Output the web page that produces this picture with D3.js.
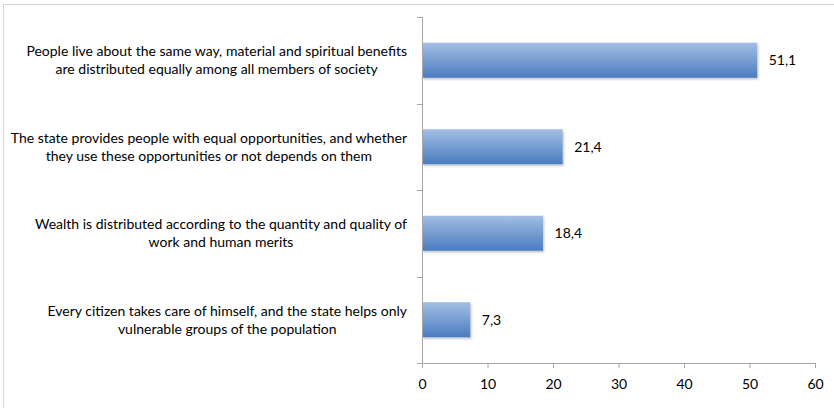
<!DOCTYPE html>
<html>
<head>
<meta charset="utf-8">
<script src="https://cdn.jsdelivr.net/npm/d3@7/dist/d3.min.js"></script>
<style>
  html, body { margin: 0; padding: 0; background: #fff; }
  svg { display: block; }
  text { font-family: Lato, "Open Sans", sans-serif; fill: #000; }
</style>
</head>
<body>
<svg id="chart" width="834" height="408"></svg>
<script>
// Survey answers (one label per category, split into its two printed lines)
const categories = [
  ["People live about the same way, material and spiritual benefits",
   "are distributed equally among all members of society"],
  ["The state provides people with equal opportunities, and whether",
   "they use these opportunities or not depends on them"],
  ["Wealth is distributed according to the quantity and quality of",
   "work and human merits"],
  ["Every citizen takes care of himself, and the state helps only",
   "vulnerable groups of the population"]
];
const values = [51.1, 21.4, 18.4, 7.3];
const xTicks = [0, 10, 20, 30, 40, 50, 60];

const svg = d3.select("#chart");
const W = 834, H = 408;
const FS = 14;

// Outer frame
svg.append("rect")
  .attr("x", 3.5).attr("y", 4.5)
  .attr("width", W + 10).attr("height", H + 10)
  .attr("fill", "none").attr("stroke", "#d4d4d4").attr("stroke-width", 1);

const plot = { left: 422, right: 815, top: 17, bottom: 363 };

const x = d3.scaleLinear().domain([0, 60]).range([plot.left, plot.right]);
const y = d3.scaleBand()
  .domain(d3.range(categories.length))
  .range([plot.top, plot.bottom])
  .paddingInner(0.595).paddingOuter(0.2975);

// Bar fill gradient and soft shadow
const defs = svg.append("defs");
const grad = defs.append("linearGradient")
  .attr("id", "barGrad").attr("x1", 0).attr("y1", 0).attr("x2", 0).attr("y2", 1);
grad.append("stop").attr("offset", "0%").attr("stop-color", "#a3bee4");
grad.append("stop").attr("offset", "100%").attr("stop-color", "#4a7cc0");

const shadow = defs.append("filter").attr("id", "barShadow")
  .attr("x", "-5%").attr("y", "-20%").attr("width", "115%").attr("height", "150%");
shadow.append("feDropShadow")
  .attr("dx", 1).attr("dy", 1.5).attr("stdDeviation", 1)
  .attr("flood-color", "#000").attr("flood-opacity", 0.25);

// Bars
svg.append("g").selectAll("rect")
  .data(values)
  .join("rect")
  .attr("x", x(0) + 0.5)
  .attr("y", (d, i) => y(i))
  .attr("width", d => x(d) - x(0))
  .attr("height", y.bandwidth())
  .attr("fill", "url(#barGrad)")
  .attr("filter", "url(#barShadow)");

// Value labels
svg.append("g").selectAll("text")
  .data(values)
  .join("text")
  .attr("x", d => x(d) + 12)
  .attr("y", (d, i) => y(i) + y.bandwidth() / 2)
  .attr("dy", "0.35em")
  .attr("font-size", FS)
  .text(d => d.toFixed(1).replace(".", ","));

// X axis
const xAxis = svg.append("g")
  .attr("transform", `translate(0,${plot.bottom})`)
  .call(d3.axisBottom(x).tickValues(xTicks).tickSize(5).tickSizeOuter(5).tickFormat(d3.format("d")));
xAxis.selectAll("path, line").attr("stroke", "#a6a6a6");
xAxis.selectAll("text").attr("font-size", FS).attr("dy", "1.25em")
  .style("font-family", "Lato, 'Open Sans', sans-serif").attr("fill", "#000");

// Y axis line with category boundary ticks
const yAxis = svg.append("g");
yAxis.append("line")
  .attr("x1", plot.left + 0.5).attr("x2", plot.left + 0.5)
  .attr("y1", plot.top).attr("y2", plot.bottom)
  .attr("stroke", "#a6a6a6");
const step = (plot.bottom - plot.top) / categories.length;
yAxis.selectAll("line.tick")
  .data(d3.range(categories.length + 1))
  .join("line").attr("class", "tick")
  .attr("x1", plot.left - 5).attr("x2", plot.left + 0.5)
  .attr("y1", i => Math.round(plot.top + i * step) + 0.5)
  .attr("y2", i => Math.round(plot.top + i * step) + 0.5)
  .attr("stroke", "#a6a6a6");

// Category labels: each two-line block centred on its widest line, right edge near the axis
const labelRight = 407;
const lg = svg.append("g");
categories.forEach((lines, i) => {
  const cy = y(i) + y.bandwidth() / 2;
  const t = lg.append("text").attr("font-size", FS).attr("text-anchor", "middle");
  const spans = lines.map((s, k) => t.append("tspan").text(s));
  const maxW = d3.max(spans, sp => sp.node().getComputedTextLength());
  const cx = labelRight - maxW / 2;
  spans.forEach((sp, k) => {
    sp.attr("x", cx).attr("y", cy + (k - 0.5) * 18).attr("dy", "0.35em");
  });
});
</script>
</body>
</html>
